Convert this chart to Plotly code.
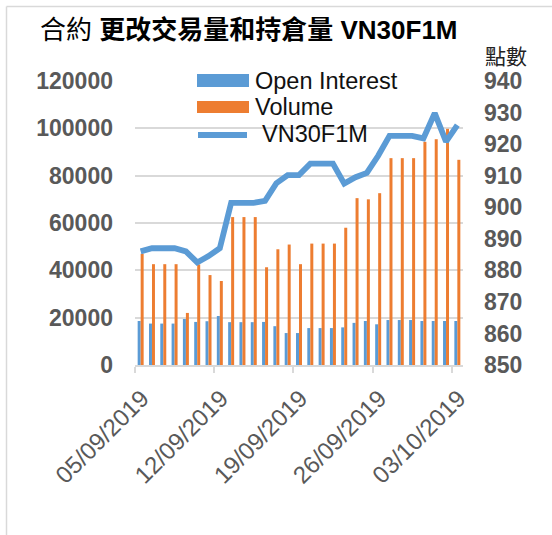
import plotly.graph_objects as go

# ---------------- data ----------------
dates = [
    "2019-09-05", "2019-09-06", "2019-09-07", "2019-09-08", "2019-09-09",
    "2019-09-10", "2019-09-11", "2019-09-12", "2019-09-13", "2019-09-14",
    "2019-09-15", "2019-09-16", "2019-09-17", "2019-09-18", "2019-09-19",
    "2019-09-20", "2019-09-21", "2019-09-22", "2019-09-23", "2019-09-24",
    "2019-09-25", "2019-09-26", "2019-09-27", "2019-09-28", "2019-09-29",
    "2019-09-30", "2019-10-01", "2019-10-02", "2019-10-03",
]
open_interest = [
    18600, 17500, 17500, 17500, 19450, 18200, 18500, 20700, 18100, 18100,
    18100, 18200, 16400, 13500, 13500, 15600, 15600, 15600, 15900, 17800,
    18600, 17200, 19000, 19000, 19000, 18600, 18600, 18600, 18600,
]
volume = [
    47000, 42600, 42600, 42600, 22000, 42500, 38000, 35500, 62500, 62500,
    62500, 41300, 48900, 50900, 42600, 51300, 51300, 51300, 58000, 70500,
    70000, 72600, 87400, 87400, 87400, 94300, 95400, 99800, 86700,
]
vn30f1m = [
    886.0, 887.0, 887.0, 887.0, 886.0, 882.5, 884.5, 887.0, 901.4, 901.4,
    901.4, 902.0, 907.6, 910.2, 910.2, 913.8, 913.8, 913.8, 907.5, 909.5,
    910.9, 916.3, 922.6, 922.6, 922.6, 921.8, 929.8, 920.8, 926.0,
]
tick_dates = ["2019-09-05", "2019-09-12", "2019-09-19", "2019-09-26", "2019-10-03"]
tick_labels = ["05/09/2019", "12/09/2019", "19/09/2019", "26/09/2019", "03/10/2019"]
series_names = ["Open Interest", "Volume", "VN30F1M"]

# ---------------- style ----------------
W, H = 552, 535
ML, MR, MT, MB = 135, 89, 81, 170
PW, PH = W - ML - MR, H - MT - MB
BLUE = "#5B9BD5"
ORANGE = "#ED7D31"
GRID = "#D9D9D9"
TICK = "#595959"
LAT = "Liberation Sans, Arial, sans-serif"
CJK = "Liberation Sans, Noto Sans CJK TC, sans-serif"
DAY = 86400000


def px(x):
    return (x - ML) / PW


def py(y):
    return (H - MB - y) / PH


fig = go.Figure()
fig.add_trace(go.Bar(
    x=dates, y=open_interest, name=series_names[0], marker_color=BLUE,
    marker_line_width=0, xperiod=DAY, xperiodalignment="middle",
    showlegend=False,
))
fig.add_trace(go.Bar(
    x=dates, y=volume, name=series_names[1], marker_color=ORANGE,
    marker_line_width=0, xperiod=DAY, xperiodalignment="middle",
    showlegend=False,
))
fig.add_trace(go.Scatter(
    x=dates, y=vn30f1m, name=series_names[2], mode="lines", yaxis="y2",
    line=dict(color=BLUE, width=5.8), xperiod=DAY, xperiodalignment="middle",
    showlegend=False,
))

shapes = [
    # chart frame (top and left edges)
    dict(type="line", xref="paper", yref="paper", x0=px(6.5), x1=px(W + 5),
         y0=py(6.5), y1=py(6.5), line=dict(color=GRID, width=1.5)),
    dict(type="line", xref="paper", yref="paper", x0=px(6.5), x1=px(6.5),
         y0=py(6.5), y1=py(H + 5), line=dict(color=GRID, width=1.5)),
    # legend keys
    dict(type="rect", xref="paper", yref="paper", x0=px(197), x1=px(249),
         y0=py(87), y1=py(74), fillcolor=BLUE, line_width=0),
    dict(type="rect", xref="paper", yref="paper", x0=px(197), x1=px(249),
         y0=py(113), y1=py(101), fillcolor=ORANGE, line_width=0),
    dict(type="line", xref="paper", yref="paper", x0=px(198), x1=px(247),
         y0=py(135), y1=py(135), line=dict(color=BLUE, width=6)),
]

annotations = [
    dict(text=series_names[0], x=px(253), y=py(81), xref="paper", yref="paper",
         xanchor="left", yanchor="middle", showarrow=False,
         font=dict(family=LAT, size=23.5, color="#111111")),
    dict(text=series_names[1], x=px(253), y=py(107), xref="paper", yref="paper",
         xanchor="left", yanchor="middle", showarrow=False,
         font=dict(family=LAT, size=23.5, color="#111111")),
    dict(text=series_names[2], x=px(260), y=py(134), xref="paper", yref="paper",
         xanchor="left", yanchor="middle", showarrow=False,
         font=dict(family=LAT, size=23.5, color="#111111")),
    # title
    dict(text="合約 <b>更改交易量和持倉量 VN30F1M</b>", x=px(249), y=py(30),
         xref="paper", yref="paper", xanchor="center", yanchor="middle",
         showarrow=False, font=dict(family=CJK, size=26, color="#000000")),
    # right axis unit
    dict(text="點數", x=px(483), y=py(55), xref="paper", yref="paper",
         xanchor="left", yanchor="middle", showarrow=False,
         font=dict(family="Noto Sans CJK TC, sans-serif", size=21, color="#222222")),
]

fig.update_layout(
    width=W, height=H,
    margin=dict(l=ML, r=MR, t=MT, b=MB, pad=0),
    paper_bgcolor="white", plot_bgcolor="white",
    barmode="group", bargap=0.47, bargroupgap=0.0,
    shapes=shapes, annotations=annotations,
    xaxis=dict(
        type="date", range=["2019-09-05", "2019-10-04"],
        tickvals=tick_dates, ticktext=tick_labels, tickangle=-45,
        tickfont=dict(family=LAT, size=24, color=TICK),
        showgrid=False, showline=True, linecolor=GRID, linewidth=1.5,
        ticks="outside", ticklen=6, tickcolor=GRID, tickwidth=1.5,
        ticklabelshift=7, ticklabelstandoff=2,
        zeroline=False, fixedrange=True,
    ),
    yaxis=dict(
        range=[0, 120000], dtick=20000, tick0=0,
        tickfont=dict(family=LAT, size=23, color=TICK, weight="bold"),
        showgrid=True, gridcolor=GRID, gridwidth=1.5, zeroline=False,
        showline=False, ticks="", ticklabelstandoff=21, tickformat="d",
    ),
    yaxis2=dict(
        range=[850, 940], dtick=10, tick0=850, overlaying="y", side="right",
        tickfont=dict(family=LAT, size=23, color=TICK, weight="bold"),
        showgrid=False, zeroline=False, showline=False, ticks="",
        ticklabelstandoff=20,
    ),
)

fig.write_html(
    "out.html",
    config={"displayModeBar": False},
    post_script="document.body.style.margin='0';",
)
